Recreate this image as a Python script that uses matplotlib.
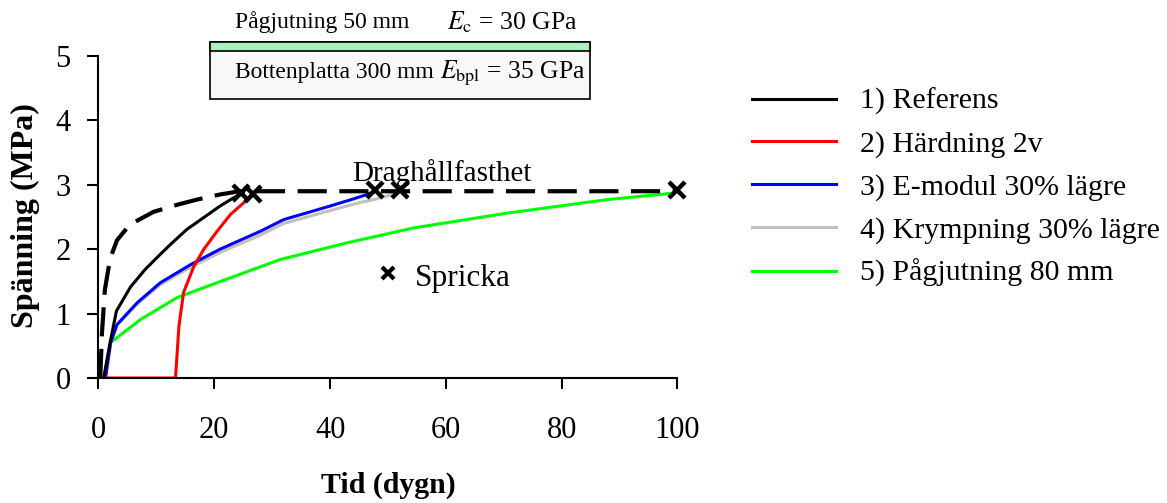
import matplotlib.pyplot as plt
from matplotlib.patches import Rectangle

plt.rcParams['font.family'] = ['Liberation Serif', 'DejaVu Serif']
plt.rcParams['mathtext.fontset'] = 'stix'

# Stress development (MPa) over time (days)
t_ref = [0.9, 2.0, 3.1, 5.5, 8, 10.1, 12.5, 15.3, 18, 21, 23, 25]
s_ref = [0, 0.55, 1.04, 1.41, 1.68, 1.87, 2.08, 2.31, 2.48, 2.67, 2.78, 2.88]

t_hard = [1.2, 13.3, 13.9, 14.7, 16.5, 18.2, 20.5, 22.8, 25.7, 26.8]
s_hard = [0, 0, 0.81, 1.33, 1.74, 2.0, 2.28, 2.54, 2.77, 2.85]

t_emod = [1.2, 2.1, 3.2, 6.7, 10.7, 15.9, 21, 28, 32, 40, 44, 46.4, 47.8]
s_emod = [0, 0.55, 0.83, 1.17, 1.48, 1.76, 2.0, 2.28, 2.46, 2.67, 2.78, 2.85, 2.9]

t_krymp = [1.2, 2.1, 3.2, 6.7, 10.7, 15.9, 21, 28, 32, 40, 45, 48, 51.5]
s_krymp = [0, 0.55, 0.82, 1.15, 1.45, 1.72, 1.95, 2.22, 2.4, 2.6, 2.72, 2.78, 2.87]

t_pag = [0.9, 2.1, 4.4, 7.3, 13.6, 19.9, 31.4, 43, 54.4, 70.6, 87.9, 99.3]
s_pag = [0, 0.55, 0.71, 0.91, 1.25, 1.46, 1.84, 2.1, 2.33, 2.56, 2.77, 2.87]

# tensile strength (dashed)
t_drag = [0.3, 0.6, 1.1, 2.0, 3.2, 5.4, 9.5, 13.6, 17, 21, 24.4, 100]
s_drag = [0, 0.7, 1.37, 1.85, 2.14, 2.38, 2.58, 2.69, 2.77, 2.85, 2.9, 2.9]

# crack points
crack_t = [24.7, 26.7, 47.8, 52.1, 100]
crack_s = [2.87, 2.85, 2.92, 2.92, 2.92]

labels = ['1) Referens', '2) Härdning 2v', '3) E-modul 30% lägre',
          '4) Krympning 30% lägre', '5) Pågjutning 80 mm']
colors = ['black', '#FF0000', '#0000FF', '#C0C0C0', '#00FF00']

fig = plt.figure(figsize=(11.67, 5.03), dpi=100)
ax = fig.add_axes([0.0844, 0.2485, 0.4961, 0.6402])

lw = 2.2
h_pag, = ax.plot(t_pag, s_pag, color=colors[4], lw=lw)
h_kr, = ax.plot(t_krymp, s_krymp, color=colors[3], lw=lw)
h_em, = ax.plot(t_emod, s_emod, color=colors[2], lw=lw)
h_ha, = ax.plot(t_hard, s_hard, color=colors[1], lw=lw)
h_re, = ax.plot(t_ref, s_ref, color=colors[0], lw=lw)

ax.plot(t_drag, s_drag, color='black', lw=3, dashes=(7, 3), clip_on=False)
ax.plot(crack_t, crack_s, 'x', color='black', ms=11, mew=3.2, clip_on=False, zorder=5)

ax.text(43.8, 3.18, 'Draghållfasthet', fontsize=21, va='center')
ax.plot([50], [1.63], 'x', color='black', ms=9, mew=3)
ax.text(54.7, 1.55, 'Spricka', fontsize=22.5, va='center')

ax.set_xlim(0, 100)
ax.set_ylim(0, 5)
ax.set_xticks([0, 20, 40, 60, 80, 100])
ax.set_yticks([0, 1, 2, 3, 4, 5])
for sp in ['top', 'right']:
    ax.spines[sp].set_visible(False)
for sp in ['left', 'bottom']:
    ax.spines[sp].set_linewidth(1.5)
ax.tick_params(direction='out', length=8, width=1.5, labelsize=22)
ax.tick_params(axis='x', pad=19)
ax.tick_params(axis='y', pad=12)

ax.set_xlabel('Tid (dygn)', fontsize=21.5, fontweight='bold')
ax.set_ylabel('Spänning (MPa)', fontsize=23, fontweight='bold')
ax.xaxis.set_label_coords(0.5, -0.29)
ax.yaxis.set_label_coords(-0.101, 0.505)

ax.legend([h_re, h_ha, h_em, h_kr, h_pag], labels, loc='upper left',
          bbox_to_anchor=(752 / 1167, 1 - 88 / 503), bbox_transform=fig.transFigure,
          frameon=False, fontsize=21.5, handlelength=2.8, handletextpad=0.8,
          labelspacing=0.52, borderpad=0, borderaxespad=0)

# inset showing the slab cross-section
fig.patches.append(Rectangle((0.18, 0.8032), 0.3256, 0.1133, transform=fig.transFigure,
                             facecolor='#F8F8F8', edgecolor='black', lw=1.2))
fig.patches.append(Rectangle((0.18, 0.8986), 0.3256, 0.0179, transform=fig.transFigure,
                             facecolor='#A8F0C0', edgecolor='black', lw=1.2))
fig.text(0.2014, 0.956, 'Pågjutning 50 mm', fontsize=17, va='center')
fig.text(0.383, 0.956, r'$E_{\mathrm{c}}$ = 30 GPa', fontsize=18.5, va='center')
fig.text(0.2014, 0.855, 'Bottenplatta 300 mm', fontsize=17, va='center')
fig.text(0.377, 0.855, r'$E_{\mathrm{bpl}}$ = 35 GPa', fontsize=18.5, va='center')

fig.savefig('out.png', dpi=100)
